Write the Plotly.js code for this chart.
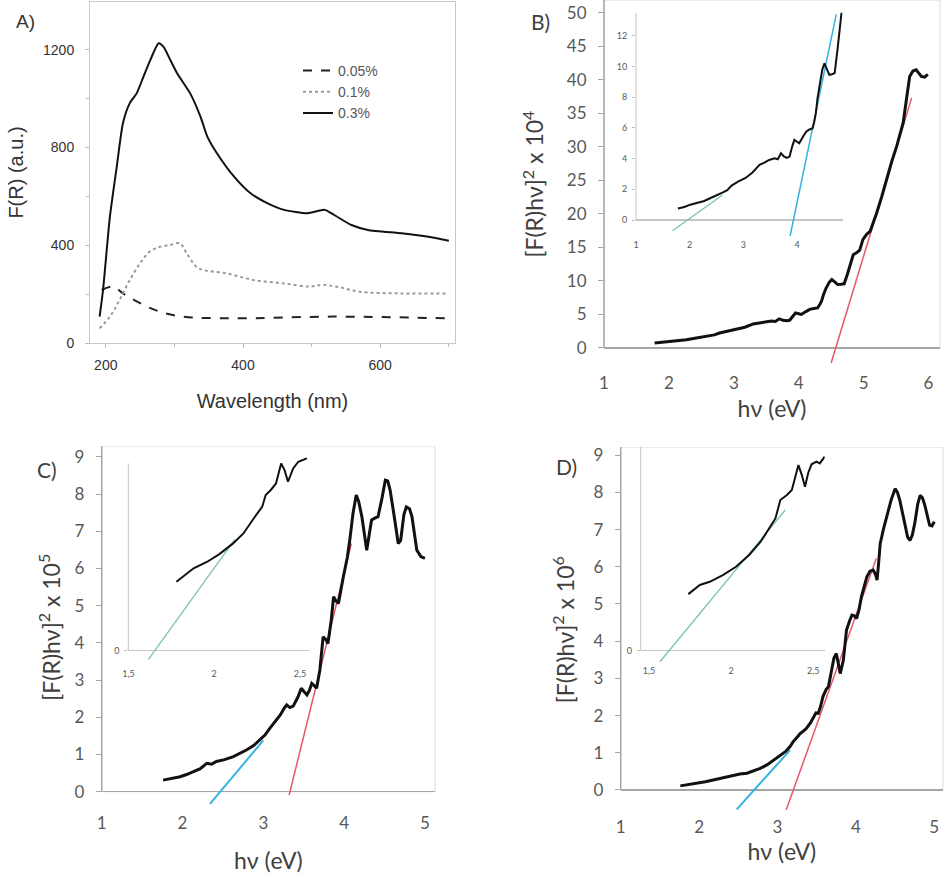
<!DOCTYPE html>
<html><head><meta charset="utf-8">
<script src="https://cdn.plot.ly/plotly-3.0.1.min.js"></script>
<style>html,body{margin:0;padding:0;background:#fff}#chart{width:945px;height:881px}</style>
</head><body><div id="chart"></div><script>
// ---------- Panel A data: F(R) vs wavelength ----------
const A_legend = ['0.05%', '0.1%', '0.3%'];
const A_wl_005 = [194, 211, 225, 250, 279, 313, 386, 531, 697];
const A_fr_005 = [217, 231, 203, 163, 128, 108, 101, 108, 101];
const A_wl_01 = [191, 206, 220, 235, 250, 264, 279, 293, 308, 318, 332, 342, 376, 415, 459, 497, 517, 541, 570, 629, 697];
const A_fr_01 = [60, 108, 176, 258, 326, 374, 394, 401, 408, 367, 312, 299, 285, 258, 244, 231, 238, 228, 210, 203, 203];
const A_wl_03 = [191, 196, 206, 216, 225, 235, 245, 255, 265, 277, 284, 294, 304, 323, 338, 348, 362, 387, 411, 436, 460, 494, 519, 533, 558, 582, 631, 670, 700];
const A_fr_03 = [108, 217, 517, 722, 900, 982, 1022, 1091, 1159, 1227, 1213, 1159, 1104, 1022, 927, 845, 777, 681, 613, 572, 545, 531, 545, 524, 483, 463, 449, 435, 419];

// ---------- Panel B data ----------
const B_hv = [1.78,1.90,2.01,2.14,2.27,2.40,2.53,2.62,2.70,2.78,2.90,3.04,3.17,3.30,3.40,3.48,3.58,3.64,3.70,3.76,3.81,3.86,3.91,3.95,4.00,4.04,4.11,4.17,4.23,4.29,4.32,4.35,4.38,4.42,4.47,4.51,4.55,4.60,4.65,4.70,4.75,4.79,4.84,4.89,4.94,4.99,5.05,5.10,5.15,5.20,5.28,5.35,5.43,5.51,5.56,5.61,5.66,5.71,5.76,5.81,5.85,5.89,5.94,5.99];
const B_val = [0.75,0.85,1.0,1.12,1.24,1.45,1.64,1.80,1.95,2.24,2.50,2.74,3.10,3.59,3.75,3.91,4.02,3.96,4.35,4.13,4.05,4.13,4.80,5.22,5.10,5.00,5.43,5.76,5.90,5.98,6.40,6.96,7.90,8.90,9.80,10.20,9.90,9.46,9.50,9.57,11.0,12.2,13.9,14.2,14.6,16.2,17.0,17.4,18.6,20.1,22.6,25.1,27.7,30.1,31.8,33.6,37.1,40.5,41.3,41.5,41.0,40.5,40.4,40.8];
const B_fit_hv = [4.50, 5.74];
const B_fit_val = [-2.24, 37.3];
const B_in_green_hv = [1.68, 2.61];
const B_in_green_val = [-0.7, 1.63];
const B_in_cyan_hv = [3.87, 4.73];
const B_in_cyan_val = [-1.04, 13.4];

// ---------- Panel C data ----------
const C_hv = [1.76,1.85,1.97,2.05,2.13,2.22,2.30,2.36,2.42,2.52,2.63,2.72,2.79,2.88,2.96,3.02,3.08,3.15,3.21,3.26,3.29,3.33,3.37,3.43,3.47,3.50,3.54,3.57,3.60,3.63,3.66,3.70,3.74,3.77,3.80,3.84,3.87,3.90,3.93,3.99,4.04,4.07,4.11,4.15,4.18,4.22,4.25,4.28,4.31,4.34,4.38,4.42,4.47,4.51,4.54,4.57,4.62,4.67,4.70,4.74,4.77,4.81,4.84,4.88,4.90,4.95,5.00];
const C_val = [0.31,0.35,0.40,0.46,0.54,0.62,0.76,0.74,0.81,0.86,0.94,1.03,1.12,1.24,1.39,1.52,1.70,1.88,2.06,2.25,2.33,2.26,2.30,2.55,2.78,2.70,2.60,2.72,2.91,2.85,2.78,3.27,4.16,4.10,3.98,4.60,5.24,5.12,5.06,5.77,6.30,6.76,7.48,7.97,7.80,7.39,6.90,6.49,6.90,7.30,7.35,7.39,7.90,8.37,8.35,8.10,7.40,6.67,6.75,7.45,7.65,7.60,7.39,6.80,6.49,6.32,6.27];
const C_red_hv = [3.32, 4.09];
const C_red_val = [-0.09, 6.67];
const C_cyan_hv = [2.34, 3.0];
const C_cyan_val = [-0.33, 1.38];
const C_in_hv = [1.78,1.84,1.88,1.96,2.03,2.11,2.17,2.23,2.28,2.30,2.33,2.36,2.39,2.41,2.43,2.46,2.49,2.54];
const C_in_val = [3.68,4.13,4.40,4.75,5.16,5.73,6.26,7.06,7.69,8.31,8.58,8.93,10.0,9.64,9.02,9.73,10.09,10.27];
const C_in_green_hv = [1.617, 2.12];
const C_in_green_val = [-0.46, 5.95];

// ---------- Panel D data ----------
const D_hv = [1.76,1.86,1.97,2.08,2.18,2.30,2.44,2.52,2.61,2.70,2.78,2.87,2.95,3.03,3.10,3.16,3.20,3.25,3.29,3.33,3.37,3.42,3.46,3.49,3.52,3.55,3.58,3.62,3.65,3.69,3.72,3.75,3.78,3.80,3.84,3.88,3.92,3.95,3.98,4.01,4.04,4.07,4.11,4.14,4.18,4.22,4.25,4.27,4.29,4.31,4.35,4.39,4.45,4.50,4.53,4.56,4.60,4.63,4.66,4.69,4.72,4.75,4.79,4.82,4.85,4.88,4.91,4.94,4.97,5.00];
const D_val = [0.11,0.14,0.18,0.22,0.27,0.33,0.40,0.43,0.45,0.51,0.58,0.68,0.81,0.92,1.03,1.17,1.30,1.42,1.52,1.58,1.66,1.80,1.97,2.07,2.06,2.25,2.51,2.70,2.78,3.22,3.55,3.67,3.30,3.13,3.49,4.30,4.55,4.70,4.68,4.61,4.85,5.19,5.50,5.73,5.88,5.91,5.80,5.64,6.10,6.62,7.00,7.34,7.80,8.10,8.00,7.79,7.40,7.07,6.80,6.71,6.85,7.16,7.70,7.92,7.85,7.65,7.35,7.12,7.10,7.21];
const D_red_hv = [3.11, 4.26];
const D_red_val = [-0.54, 6.22];
const D_cyan_hv = [2.48, 3.16];
const D_cyan_val = [-0.52, 1.07];
const D_in_hv = [1.74,1.81,1.87,1.95,2.03,2.11,2.18,2.24,2.27,2.30,2.34,2.37,2.41,2.43,2.45,2.47,2.49,2.52,2.54,2.57];
const D_in_val = [3.02,3.51,3.68,4.04,4.48,5.11,5.82,6.62,7.06,8.04,8.31,8.58,9.91,9.40,8.75,9.50,9.95,10.09,10.0,10.36];
const D_in_green_hv = [1.567, 2.33];
const D_in_green_val = [-0.59, 7.51];

const xTicksB = [1, 2, 3, 4, 5, 6];
const xTicksCD = [1, 2, 3, 4, 5];
const insetTicksCD = [1.5, 2, 2.5];

// ---------- layout helpers ----------
const W = 945, H = 881;
const dx = (a, b) => [a / W, b / W];
const dy = (top, bottom) => [1 - bottom / H, 1 - top / H];
const ARIAL = 'Liberation Sans, Arial, sans-serif';
const CAL = 'Lato, Open Sans, sans-serif';
const RED = '#e8566c', CYAN = '#35b2e2', GREEN = '#7cc3a6', BLK = '#111111';

function line(x, y, xa, ya, color, width, dash) {
  return {x, y, xaxis: xa, yaxis: ya, type: 'scatter', mode: 'lines', showlegend: false,
    hoverinfo: 'skip', line: {color, width, dash: dash || 'solid'}};
}

const traces = [
  {x: A_wl_005, y: A_fr_005, name: A_legend[0], type: 'scatter', mode: 'lines', xaxis: 'x', yaxis: 'y',
    line: {color: '#222', width: 2, dash: 'dash', shape: 'spline'}, legendgroup: 'a'},
  {x: A_wl_01, y: A_fr_01, name: A_legend[1], type: 'scatter', mode: 'lines', xaxis: 'x', yaxis: 'y',
    line: {color: '#999', width: 2, dash: 'dot', shape: 'spline'}, legendgroup: 'b'},
  {x: A_wl_03, y: A_fr_03, name: A_legend[2], type: 'scatter', mode: 'lines', xaxis: 'x', yaxis: 'y',
    line: {color: '#111', width: 2, shape: 'spline', smoothing: 0.6}, legendgroup: 'c'},
  line(B_fit_hv, B_fit_val, 'x2', 'y2', RED, 1.5),
  line(B_hv, B_val, 'x2', 'y2', BLK, 3),
  line(B_in_green_hv, B_in_green_val, 'x3', 'y3', GREEN, 1.3),
  line(B_in_cyan_hv, B_in_cyan_val, 'x3', 'y3', CYAN, 1.5),
  line(B_hv, B_val, 'x3', 'y3', BLK, 2),
  line(C_red_hv, C_red_val, 'x4', 'y4', RED, 1.5),
  line(C_cyan_hv, C_cyan_val, 'x4', 'y4', CYAN, 2),
  line(C_hv, C_val, 'x4', 'y4', BLK, 3),
  line(C_in_green_hv, C_in_green_val, 'x5', 'y5', GREEN, 1.3),
  line(C_in_hv, C_in_val, 'x5', 'y5', BLK, 2),
  line(D_red_hv, D_red_val, 'x6', 'y6', RED, 1.5),
  line(D_cyan_hv, D_cyan_val, 'x6', 'y6', CYAN, 2),
  line(D_hv, D_val, 'x6', 'y6', BLK, 3),
  line(D_in_green_hv, D_in_green_val, 'x7', 'y7', GREEN, 1.3),
  line(D_in_hv, D_in_val, 'x7', 'y7', BLK, 2)
];

const tfB = {family: CAL, size: 17, color: '#595959'};
const tfIn = {family: CAL, size: 9, color: '#595959'};
const ttlB = {family: CAL, size: 23, color: '#404040'};
const yTitle = p => '[F(R)hν]<sup>2</sup> x 10<sup>' + p + '</sup>';

function mainX(dom, rng, ya, vals, so) {
  return {domain: dom, range: rng, anchor: ya, tickvals: vals, ticks: '', showline: false, showgrid: false,
    zeroline: false, tickfont: tfB, ticklabelstandoff: 3, fixedrange: true,
    title: {text: 'hν (eV)', font: ttlB, standoff: so}};
}
function mainY(dom, rng, xa, dt, p, so) {
  return {domain: dom, range: rng, anchor: xa, tick0: 0, dtick: dt, ticks: 'outside', ticklen: 5, tickcolor: '#a6a6a6',
    showline: false, showgrid: false, zeroline: true, zerolinecolor: '#a6a6a6', zerolinewidth: 1.5,
    tickfont: tfB, ticklabelstandoff: 8, fixedrange: true,
    title: {text: yTitle(p), font: ttlB, standoff: so}};
}
function insetX(dom, rng, ya, vals) {
  return {domain: dom, range: rng, anchor: ya, tickvals: vals, ticks: '', showline: false, showgrid: false,
    zeroline: false, tickfont: tfIn, ticklabelstandoff: 1, fixedrange: true};
}
function insetY(dom, rng, xa, vals) {
  return {domain: dom, range: rng, anchor: xa, tickvals: vals, ticks: 'outside', ticklen: 3, tickcolor: '#bfbfbf',
    showline: false, showgrid: false, zeroline: true, zerolinecolor: '#c4c4c4', zerolinewidth: 1.5,
    tickfont: tfIn, ticklabelstandoff: 3, fixedrange: true};
}
function letter(t, px, py, fam, size, col) {
  return {text: t, xref: 'paper', yref: 'paper', x: px / W, y: 1 - py / H, xanchor: 'center', yanchor: 'middle',
    showarrow: false, font: {family: fam, size: size, color: col}};
}

const layout = {
  width: W, height: H, margin: {l: 0, r: 0, t: 0, b: 0},
  paper_bgcolor: '#ffffff', plot_bgcolor: 'rgba(0,0,0,0)',
  separators: ',.',
  font: {family: CAL, color: '#404040'},
  showlegend: true,
  legend: {x: 298 / W, y: 1 - 55 / H, xanchor: 'left', yanchor: 'top', bgcolor: 'rgba(0,0,0,0)',
    font: {family: ARIAL, size: 14, color: '#555'}, itemwidth: 30, tracegroupgap: 7, traceorder: 'normal'},
  xaxis: {domain: dx(90, 455), range: [177, 709], anchor: 'y', tickvals: [200, 400, 600], ticks: 'outside', ticklen: 4,
    tickcolor: '#bbb', minor: {dtick: 100, tick0: 0, ticks: 'outside', ticklen: 3, tickcolor: '#bbb'},
    showline: true, mirror: true, linecolor: '#c8c8c8', linewidth: 1, showgrid: false, zeroline: false,
    tickfont: {family: ARIAL, size: 14, color: '#333'}, ticklabelstandoff: 5, fixedrange: true,
    title: {text: 'Wavelength (nm)', font: {family: ARIAL, size: 20, color: '#333'}, standoff: 22}},
  yaxis: {domain: dy(2, 343), range: [0, 1396], anchor: 'x', tickvals: [0, 400, 800, 1200], ticks: 'outside', ticklen: 4,
    tickcolor: '#bbb', minor: {dtick: 200, tick0: 0, ticks: 'outside', ticklen: 3, tickcolor: '#bbb'},
    showline: true, mirror: true, linecolor: '#c8c8c8', linewidth: 1, showgrid: false, zeroline: false,
    tickfont: {family: ARIAL, size: 14, color: '#333'}, ticklabelstandoff: 8, fixedrange: true,
    title: {text: 'F(R) (a.u.)', font: {family: ARIAL, size: 20, color: '#333'}, standoff: 14}},
  xaxis2: mainX(dx(604, 940), [0.9995, 6.177], 'y2', xTicksB, 8),
  yaxis2: mainY(dy(0, 368.1), [-3, 51.9], 'x2', 5, 4, 16),
  xaxis3: insetX(dx(636, 842.7), [0.9995, 4.85], 'y3', [1, 2, 3, 4]),
  yaxis3: insetY(dy(12.8, 236.9), [-1.1, 13.5], 'x3', [0, 2, 4, 6, 8, 10, 12]),
  xaxis4: mainX(dx(101.7, 435), [0.9995, 5.125], 'y4', xTicksCD, 20),
  yaxis4: mainY(dy(446, 808.4), [-0.45, 9.29], 'x4', 1, 5, 7),
  xaxis5: insetX(dx(128.3, 308.6), [1.4995, 2.55], 'y5', insetTicksCD),
  yaxis5: insetY(dy(455.9, 665.7), [-0.8, 10.4], 'x5', [0]),
  xaxis6: mainX(dx(620.7, 942.9), [0.9995, 5.11], 'y6', xTicksCD, 6),
  yaxis6: mainY(dy(447, 812.3), [-0.6, 9.22], 'x6', 1, 6, 12),
  xaxis7: insetX(dx(640.7, 824.7), [1.45, 2.57], 'y7', insetTicksCD),
  yaxis7: insetY(dy(446.5, 662.9), [-0.65, 10.9], 'x7', [0]),
  shapes: [
    {type: 'rect', xref: 'x2 domain', yref: 'y2', x0: 0, x1: 1, y0: 0, y1: 51.9, line: {color: '#dadada', width: 1}, layer: 'below'},
    {type: 'line', xref: 'x2 domain', yref: 'y2', x0: 0, x1: 0, y0: 0, y1: 51.9, line: {color: '#a6a6a6', width: 1.5}, layer: 'below'},
    {type: 'line', xref: 'x3 domain', yref: 'y3', x0: 0, x1: 0, y0: 0, y1: 13.5, line: {color: '#c4c4c4', width: 1}, layer: 'below'},
    {type: 'rect', xref: 'x4 domain', yref: 'y4', x0: 0, x1: 1, y0: 0, y1: 9.29, line: {color: '#dadada', width: 1}, layer: 'below'},
    {type: 'line', xref: 'x4 domain', yref: 'y4', x0: 0, x1: 0, y0: 0, y1: 9.29, line: {color: '#a6a6a6', width: 1.5}, layer: 'below'},
    {type: 'line', xref: 'x5 domain', yref: 'y5', x0: 0, x1: 0, y0: 0, y1: 10.0, line: {color: '#c4c4c4', width: 1}, layer: 'below'},
    {type: 'rect', xref: 'x6 domain', yref: 'y6', x0: 0, x1: 1, y0: 0, y1: 9.22, line: {color: '#dadada', width: 1}, layer: 'below'},
    {type: 'line', xref: 'x6 domain', yref: 'y6', x0: 0, x1: 0, y0: 0, y1: 9.22, line: {color: '#a6a6a6', width: 1.5}, layer: 'below'},
    {type: 'line', xref: 'x7 domain', yref: 'y7', x0: 0, x1: 0, y0: 0, y1: 10.9, line: {color: '#c4c4c4', width: 1}, layer: 'below'}
  ],
  annotations: [
    letter('A)', 25, 22, ARIAL, 19, '#333'),
    letter('B)', 540, 22, CAL, 21, '#404040'),
    letter('C)', 47, 469, CAL, 21, '#404040'),
    letter('D)', 566, 467, CAL, 21, '#404040')
  ]
};

Plotly.newPlot('chart', traces, layout, {staticPlot: true, displayModeBar: false});
</script></body></html>
